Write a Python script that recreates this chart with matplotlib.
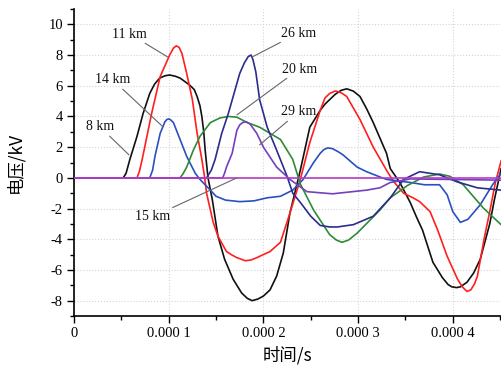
import matplotlib
matplotlib.use('Agg')
import matplotlib.pyplot as plt
from matplotlib.ticker import MultipleLocator

plt.rcParams['axes.unicode_minus'] = False

# ── data (time in units of 1e-4 s, voltage in kV) ─────────────────────────────
t_8km = [0, 0.52, 0.55, 0.59, 0.665, 0.73, 0.80, 0.85, 0.905, 0.96, 1.01, 1.07,
         1.12, 1.22, 1.27, 1.30, 1.33, 1.35, 1.37, 1.385, 1.415, 1.46, 1.52,
         1.59, 1.68, 1.77, 1.83, 1.88, 1.94, 2.00, 2.07, 2.14, 2.21, 2.28, 2.39,
         2.49, 2.60, 2.65, 2.70, 2.76, 2.82, 2.88, 2.95, 3.02, 3.09, 3.16, 3.30,
         3.34, 3.44, 3.55, 3.62, 3.68, 3.79, 3.89, 3.95, 3.99, 4.04, 4.08, 4.15,
         4.22, 4.29, 4.39, 4.44, 4.51]
v_8km = [0, 0, 0.3, 1.2, 2.7, 4.2, 5.5, 6.1, 6.5, 6.65, 6.7, 6.62,
         6.5, 6.05, 5.75, 5.3, 4.7, 4.0, 3.0, 1.8, 0, -1.4, -3.8,
         -5.3, -6.6, -7.5, -7.85, -8.0, -7.9, -7.7, -7.3, -6.4, -4.9, -2.3, 0.5,
         3.3, 4.4, 4.8, 5.1, 5.45, 5.7, 5.8, 5.65, 5.3, 4.5, 3.6, 1.6,
         0.6, -0.3, -1.6, -2.6, -3.4, -5.5, -6.5, -6.95, -7.1, -7.15, -7.1, -6.8,
         -6.2, -5.3, -3.0, -1.4, 0.6]

t_11km = [0, 0.665, 0.69, 0.72, 0.77, 0.82, 0.91, 1.01, 1.05, 1.08, 1.11, 1.14,
          1.19, 1.25, 1.30, 1.35, 1.38, 1.40, 1.47, 1.52, 1.61, 1.66, 1.72,
          1.81, 1.87, 1.93, 2.07, 2.18, 2.28, 2.39, 2.49, 2.60, 2.65, 2.70, 2.76,
          2.82, 2.88, 3.02, 3.16, 3.30, 3.37, 3.48, 3.58, 3.65, 3.76, 3.84, 3.94,
          4.05, 4.10, 4.15, 4.19, 4.23, 4.26, 4.33, 4.39, 4.45, 4.51]
v_11km = [0, 0, 0.4, 1.2, 2.7, 4.2, 6.6, 8.0, 8.45, 8.6, 8.5, 8.1,
          6.8, 5.1, 2.9, 1.2, 0, -1.0, -2.9, -3.8, -4.8, -5.0, -5.2,
          -5.4, -5.35, -5.2, -4.8, -4.2, -2.3, -0.1, 2.3, 4.4, 5.2, 5.5, 5.66,
          5.55, 5.3, 3.8, 2.0, 0.5, -0.2, -1.0, -1.3, -1.55, -2.2, -3.4, -5.1,
          -6.6, -7.1, -7.4, -7.3, -6.9, -6.4, -4.0, -2.2, -0.3, 1.1]

t_14km = [0, 0.80, 0.83, 0.855, 0.91, 0.96, 0.98, 1.00, 1.02, 1.05, 1.12, 1.19,
          1.28, 1.33, 1.44, 1.50, 1.60, 1.75, 1.90, 2.04, 2.18, 2.31, 2.42, 2.53,
          2.60, 2.64, 2.68, 2.73, 2.79, 2.84, 2.99, 3.09, 3.23, 3.30, 3.55, 3.70,
          3.86, 3.94, 4.00, 4.08, 4.16, 4.29, 4.42, 4.51]
v_14km = [0, 0, 0.5, 1.4, 2.9, 3.65, 3.8, 3.84, 3.78, 3.6, 2.5, 1.4,
          0.3, -0.1, -0.8, -1.2, -1.45, -1.55, -1.5, -1.3, -1.2, -0.8, -0.1, 1.0,
          1.6, 1.85, 1.95, 1.9, 1.7, 1.5, 0.7, 0.4, 0.06, -0.1, -0.3, -0.45,
          -0.45, -1.1, -2.2, -2.9, -2.7, -1.75, -0.45, 0.3]

t_20km = [0, 1.12, 1.15, 1.19, 1.26, 1.33, 1.44, 1.54, 1.63, 1.72, 1.83, 1.96,
          2.07, 2.18, 2.31, 2.39, 2.53, 2.70, 2.77, 2.83, 2.90, 2.99, 3.23, 3.34,
          3.52, 3.69, 3.86, 3.97, 4.11, 4.32, 4.51]
v_20km = [0, 0, 0.25, 0.7, 1.8, 2.7, 3.6, 3.9, 4.0, 3.95, 3.6, 3.3,
          2.9, 2.5, 1.2, -0.4, -2.1, -3.7, -4.05, -4.2, -4.05, -3.6, -2.1, -1.3,
          -0.5, 0.05, 0.25, 0.1, -0.45, -1.95, -3.05]

t_26km = [0, 1.40, 1.45, 1.49, 1.56, 1.63, 1.75, 1.80, 1.84, 1.87, 1.89, 1.92,
          1.96, 2.04, 2.14, 2.25, 2.31, 2.39, 2.50, 2.60, 2.70, 2.78, 2.95, 3.16,
          3.34, 3.48, 3.65, 3.86, 4.04, 4.26, 4.51]
v_26km = [0, 0, 0.5, 1.2, 2.9, 4.2, 6.8, 7.5, 7.9, 8.0, 7.7, 6.9,
          5.1, 3.3, 1.8, 0.1, -1.0, -1.6, -2.5, -3.1, -3.2, -3.2, -3.05, -2.5,
          -1.3, -0.1, 0.4, 0.2, -0.25, -0.65, -0.8]

t_29km = [0, 1.57, 1.59, 1.61, 1.67, 1.72, 1.75, 1.78, 1.82, 1.86, 1.93, 2.00,
          2.14, 2.28, 2.46, 2.73, 3.09, 3.23, 3.34, 3.44, 3.55, 4.51]
v_29km = [0, 0, 0.3, 0.7, 1.6, 3.1, 3.45, 3.6, 3.65, 3.5, 2.9, 2.0,
          0.7, -0.1, -0.9, -1.04, -0.8, -0.65, -0.3, -0.2, -0.07, -0.15]

t_15km = [0, 4.51]
v_15km = [0, 0]

x_ticks = [0, 1, 2, 3, 4]
x_tick_labels = ['0', '0.000 1', '0.000 2', '0.000 3', '0.000 4']
y_ticks = [-8, -6, -4, -2, 0, 2, 4, 6, 8, 10]

series = [
    (t_8km, v_8km, '#111111'),
    (t_11km, v_11km, '#ff1f1f'),
    (t_14km, v_14km, '#2a50c0'),
    (t_20km, v_20km, '#2e8b38'),
    (t_26km, v_26km, '#2c2c8c'),
    (t_29km, v_29km, '#7440bc'),
    (t_15km, v_15km, '#b63cc6'),
]

fig = plt.figure(figsize=(5.01, 3.68), dpi=100)
ax = fig.add_axes([74 / 501, 52 / 368, 427 / 501, 307 / 368])

for t, v, c in series:
    ax.plot([x * 1e-4 for x in t], v, color=c, lw=1.2, zorder=3,
            solid_joinstyle='round')

# ── labels with leader lines ──────────────────────────────────────────────────
labels = [
    ('11 km', (0.99e-4, 7.87), (0.59e-4, 9.37)),
    ('14 km', (0.94e-4, 3.32), (0.41e-4, 6.38)),
    ('8 km', (0.58e-4, 1.5), (0.275e-4, 3.32)),
    ('26 km', (1.88e-4, 7.87), (2.37e-4, 9.43)),
    ('20 km', (1.72e-4, 4.1), (2.38e-4, 7.09)),
    ('29 km', (1.96e-4, 2.15), (2.37e-4, 4.29)),
    ('15 km', (1.72e-4, 0.0), (0.83e-4, -2.54)),
]
for txt, xy, xyt in labels:
    ax.annotate(txt, xy=xy, xytext=xyt, ha='center', va='center',
                fontsize=10, family='Liberation Serif', color='#111111',
                arrowprops=dict(arrowstyle='-', color='#666666', lw=0.8,
                                shrinkA=0, shrinkB=0), zorder=5)

# ── axes ───────────────────────────────────────────────────────────────────────
ax.set_xlim(0, 4.509e-4)
ax.set_ylim(-9, 11)
ax.set_xticks([x * 1e-4 for x in x_ticks])
ax.set_xticklabels(x_tick_labels)
ax.xaxis.set_minor_locator(MultipleLocator(0.5e-4))
ax.set_yticks(y_ticks)
ax.yaxis.set_minor_locator(MultipleLocator(1))
for lab in ax.get_xticklabels() + ax.get_yticklabels():
    lab.set_family('Liberation Serif')
    lab.set_fontsize(10.5)
ax.tick_params(which='major', direction='out', length=5, width=1.0, pad=3)
ax.tick_params(which='minor', direction='out', length=3, width=1.0)
ax.grid(True, which='major', color='#d4d4d4', linestyle=':', lw=0.8)
ax.set_axisbelow(True)
for s in ['top', 'right']:
    ax.spines[s].set_visible(False)
for s in ['left', 'bottom']:
    ax.spines[s].set_linewidth(1.2)

cjk = ['Noto Sans CJK SC', 'DejaVu Sans']
ax.set_xlabel('时间/s', fontsize=12.5, family=cjk, labelpad=4)
ax.set_ylabel('电压/kV', fontsize=12.5, family=cjk, labelpad=17)

fig.savefig('out.png', dpi=100)
